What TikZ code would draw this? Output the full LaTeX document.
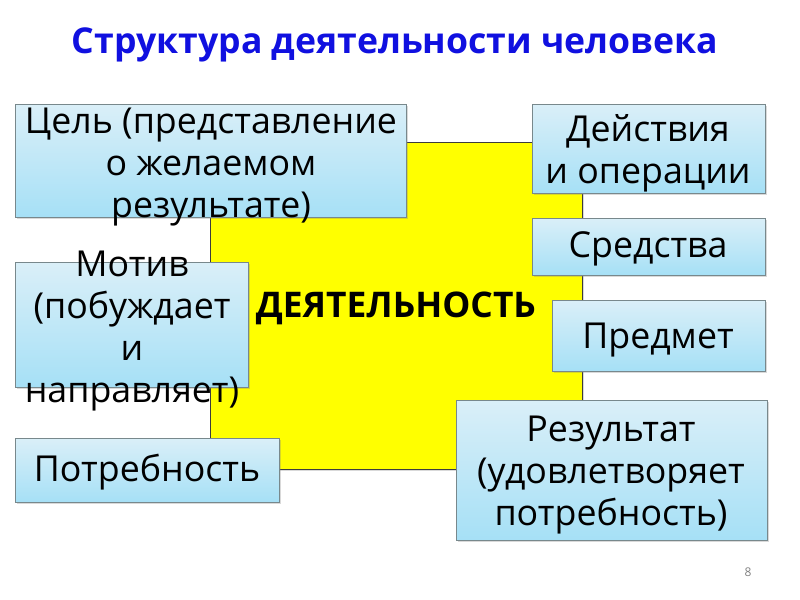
\documentclass[tikz,border=0pt]{standalone}
\usepackage{fontspec}
\setmainfont{Open Sans}
\usetikzlibrary{shadows}

\definecolor{titleblue}{RGB}{16,16,224}
\definecolor{boxtop}{RGB}{218,239,248}
\definecolor{boxbottom}{RGB}{166,224,246}
\definecolor{boxline}{RGB}{120,136,140}
\definecolor{squareyellow}{RGB}{255,255,0}

\tikzset{every picture/.style={line width=0.75pt}}
\tikzset{
  infobox/.style={draw=boxline, line width=0.6pt, top color=boxtop, bottom color=boxbottom,
    drop shadow={shadow xshift=1.2pt, shadow yshift=-1.5pt, opacity=0.3}},
  boxtext/.style={align=center, font=\fontsize{26.8}{31.5}\selectfont, inner sep=0pt}
}

\begin{document}
\begin{tikzpicture}[x=0.75pt,y=0.75pt,yscale=-1,xscale=1]
\useasboundingbox (0,0) rectangle (800,600);

%Shape: Rectangle [yellow square]
\draw [draw={rgb, 255:red, 60; green, 60; blue, 60 }, fill=squareyellow, line width=0.6pt,
  drop shadow={shadow xshift=1.2pt, shadow yshift=-1.5pt, opacity=0.3}] (210,142) -- (582,142) -- (582,469) -- (210,469) -- cycle ;

%Shape: Rectangle [goal]
\draw [infobox] (15,104) -- (406,104) -- (406,217) -- (15,217) -- cycle ;
%Shape: Rectangle [motive]
\draw [infobox] (15,262) -- (248,262) -- (248,387) -- (15,387) -- cycle ;
%Shape: Rectangle [need]
\draw [infobox] (15,438) -- (279,438) -- (279,502) -- (15,502) -- cycle ;
%Shape: Rectangle [actions]
\draw [infobox] (532,104) -- (765,104) -- (765,193) -- (532,193) -- cycle ;
%Shape: Rectangle [means]
\draw [infobox] (532,218) -- (765,218) -- (765,275) -- (532,275) -- cycle ;
%Shape: Rectangle [subject]
\draw [infobox] (552,300) -- (765,300) -- (765,371) -- (552,371) -- cycle ;
%Shape: Rectangle [result]
\draw [infobox] (456,400) -- (767,400) -- (767,540) -- (456,540) -- cycle ;

% Text Node
\draw (395,45) node (title) [font=\fontsize{26.7}{32}\selectfont\bfseries, text=titleblue] {Структура деятельности человека};
% Text Node
\draw (396,308) node (activity) [font=\fontsize{26.5}{32}\selectfont\bfseries] {ДЕЯТЕЛЬНОСТЬ};
% Text Node
\draw (211,167) node (goal) [boxtext] {Цель (представление\\о желаемом\\результате)};
% Text Node
\draw (132,331) node (motive) [boxtext] {Мотив\\(побуждает\\и\\направляет)};
% Text Node
\draw (147,472) node (need) [boxtext] {Потребность};
% Text Node
\draw (648,153) node (actions) [boxtext] {Действия\\и операции};
% Text Node
\draw (648,249) node (means) [boxtext] {Средства};
% Text Node
\draw (658,340) node (subject) [boxtext] {Предмет};
% Text Node
\draw (611,475) node (result) [boxtext] {Результат\\(удовлетворяет\\потребность)};
% Text Node
\draw (748,572) node (pagenum) [font=\fontsize{9}{11}\selectfont, text=gray] {8};

\end{tikzpicture}
\end{document}
